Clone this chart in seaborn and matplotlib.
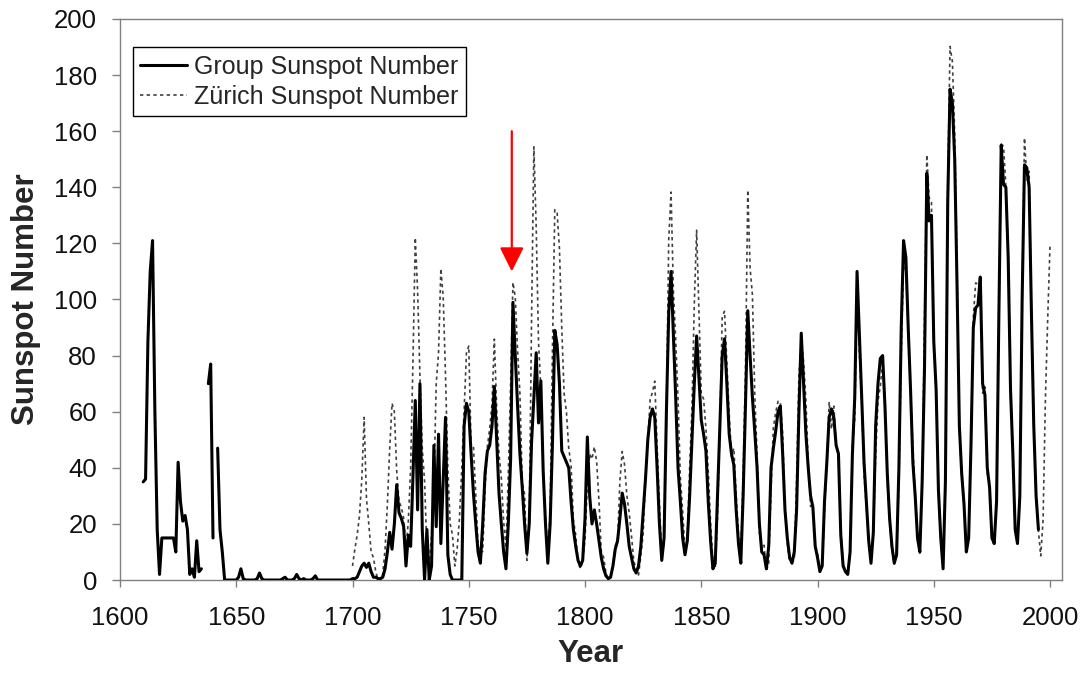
import numpy as np
import pandas as pd
import matplotlib
matplotlib.use("Agg")
import matplotlib.pyplot as plt
from matplotlib.lines import Line2D
import seaborn as sns

nan = np.nan

# Group sunspot number, yearly, 1610-1995 (nan = no data)
group_start = 1610
group_values = [
    35, 36, 85, 110, 121, 60, 18, 2, 15, 15,
    15, 15, 15, 15, 10, 42, 28, 21, 23, 18,
    2, 4, 1, 14, 3, 4, nan, nan, 70, 77,
    15, nan, 47, 18, 10, 0, 0, 0, 0, 0,
    0, 1, 4, 0.5, 0, 0, 0, 0, 0, 0.5,
    2.5, 0.5, 0, 0, 0, 0, 0, 0, 0, 0,
    0.5, 1, 0, 0, 0, 0.5, 2, 0.5, 0, 0.5,
    0, 0, 0, 0.5, 1.5, 0, 0, 0, 0, 0,
    0, 0, 0, 0, 0, 0, 0, 0, 0, 0,
    0.5, 0.5, 1, 3, 5, 6, 4.5, 6, 3, 1,
    1, 0.5, 0.5, 1, 4, 10, 17, 11, 20, 34,
    24, 22, 19, 5, 16, 12, 37, 64, 25, 70,
    18, 0, 18, 0, 5, 48, 19, 52, 13, 35,
    58, 9, 2, 0, 0, 0, 0, 0, 55, 63,
    60, 45, 31, 20, 10, 6, 20, 38, 46, 48,
    55, 69, 50, 31, 20, 10, 4, 20, 43, 99,
    80, 62, 45, 33, 20, 9.5, 20, 49, 65, 81,
    56, 71, 39, 20, 6, 20, 49, 89, 84, 70,
    46, 44, 42, 40, 28, 18, 12, 7, 5, 7,
    22, 51, 30, 20, 25, 20, 14, 8, 4, 1.5,
    0.5, 1, 5, 11, 14, 22, 31, 27, 20, 12,
    8, 4, 2.5, 5, 12, 24, 36, 50, 58, 61,
    58, 40, 20, 7, 15, 60, 95, 110, 88, 65,
    40, 28, 15, 9, 14, 30, 50, 70, 87, 72,
    57, 52, 46, 28, 14, 4, 6, 30, 55, 80,
    86, 70, 52, 45, 41, 25, 13, 6, 30, 62,
    96, 80, 65, 53, 40, 20, 10, 9, 4, 12,
    40, 47, 53, 60, 62, 45, 25, 15, 8, 6,
    10, 25, 60, 88, 70, 52, 40, 30, 26, 12,
    8, 3, 5, 28, 42, 58, 61, 58, 48, 45,
    16, 5, 3, 2, 10, 45, 65, 110, 88, 65,
    42, 28, 14, 6, 17, 55, 70, 79, 80, 62,
    38, 22, 12, 6, 9, 40, 90, 121, 115, 90,
    68, 42, 30, 15, 10, 35, 75, 145, 128, 130,
    85, 68, 32, 15, 4, 35, 135, 175, 170, 150,
    105, 55, 38, 27, 10, 15, 48, 90, 97, 98,
    108, 70, 66, 40, 33, 15, 13, 28, 95, 155,
    141, 140, 115, 68, 45, 18, 13, 30, 100, 148,
    147, 140, 95, 55, 30, 18,
]

# Zurich (Wolf) sunspot number, yearly, 1700-2000
zurich_start = 1700
zurich_values = [
    5, 11, 16, 23, 36, 58, 29, 20, 10, 8,
    3, 0, 0, 2, 11, 27, 47, 63, 60, 39,
    28, 26, 22, 11, 21, 40, 78, 122, 103, 73,
    47, 35, 11, 5, 16, 34, 70, 81, 111, 101,
    73, 40, 20, 16, 5, 11, 22, 40, 60, 80.9,
    83.4, 47.7, 47.8, 30.7, 12.2, 9.6, 10.2, 32.4, 47.6, 54.0,
    62.9, 85.9, 61.2, 45.1, 36.4, 20.9, 11.4, 37.8, 69.8, 106.1,
    100.8, 81.6, 66.5, 34.8, 30.6, 7.0, 19.8, 92.5, 154.4, 125.9,
    84.8, 68.1, 38.5, 22.8, 10.2, 24.1, 82.9, 132.0, 130.9, 118.1,
    89.9, 66.6, 60.0, 46.9, 41.0, 21.3, 16.0, 6.4, 4.1, 6.8,
    14.5, 34.0, 45.0, 43.1, 47.5, 42.2, 28.1, 10.1, 8.1, 2.5,
    0.0, 1.4, 5.0, 12.2, 13.9, 35.4, 45.8, 41.1, 30.1, 23.9,
    15.6, 6.6, 4.0, 1.8, 8.5, 16.6, 36.3, 49.6, 64.2, 67.0,
    70.9, 47.8, 27.5, 8.5, 13.2, 56.9, 121.5, 138.3, 103.2, 85.7,
    64.6, 36.7, 24.2, 10.7, 15.0, 40.1, 61.5, 98.5, 124.7, 96.3,
    66.6, 64.5, 54.1, 39.0, 20.6, 6.7, 4.3, 22.7, 54.8, 93.8,
    95.8, 77.2, 59.1, 44.0, 47.0, 30.5, 16.3, 7.3, 37.6, 74.0,
    139.0, 111.2, 101.6, 66.2, 44.7, 17.0, 11.3, 12.4, 3.4, 6.0,
    32.3, 54.3, 59.7, 63.7, 63.5, 52.2, 25.4, 13.1, 6.8, 6.3,
    7.1, 35.6, 73.0, 85.1, 78.0, 64.0, 41.8, 26.2, 26.7, 12.1,
    9.5, 2.7, 5.0, 24.4, 42.0, 63.5, 53.8, 62.0, 48.5, 43.9,
    18.6, 5.7, 3.6, 1.4, 9.6, 47.4, 57.1, 103.9, 80.6, 63.6,
    37.6, 26.1, 14.2, 5.8, 16.7, 44.3, 63.9, 69.0, 77.8, 64.9,
    35.7, 21.2, 11.1, 5.7, 8.7, 36.1, 79.7, 114.4, 109.6, 88.8,
    67.8, 47.5, 30.6, 16.3, 9.6, 33.2, 92.6, 151.6, 136.3, 134.7,
    83.9, 69.4, 31.5, 13.9, 4.4, 38.0, 141.7, 190.2, 184.8, 159.0,
    112.3, 53.9, 37.6, 27.9, 10.2, 15.1, 47.0, 93.8, 105.9, 105.5,
    104.5, 66.6, 68.9, 38.0, 34.5, 15.5, 12.6, 27.5, 92.5, 155.4,
    154.6, 140.4, 115.9, 66.6, 45.9, 17.9, 13.4, 29.4, 100.2, 157.6,
    142.6, 145.7, 94.3, 54.6, 29.9, 17.5, 8.6, 21.5, 64.3, 93.3,
    119.6,
]

x_ticks = list(range(1600, 2001, 50))
y_ticks = list(range(0, 201, 20))
arrow_year = 1768.5
arrow_from, arrow_to = 160, 110

# tables
group = pd.DataFrame({"Year": group_start + np.arange(len(group_values)),
                      "Value": group_values})
# split at gaps so the line breaks there
group["seg"] = group["Value"].isna().cumsum()
group = group.dropna()
zurich = pd.DataFrame({"Year": zurich_start + np.arange(len(zurich_values)),
                       "Value": zurich_values})

sns.set_style("white")
plt.rcParams["font.family"] = ["Liberation Sans", "DejaVu Sans"]

fig = plt.figure(figsize=(10.84, 6.75), dpi=100)
ax = fig.add_axes([0.1107, 0.1407, 0.8687, 0.8312])

zur_style = dict(color="#404040", lw=1.2, dashes=(2, 2))
sns.lineplot(data=zurich, x="Year", y="Value", ax=ax, **{"color": "#404040"},
             linewidth=1.2, linestyle=(0, (2, 2)), zorder=2)
sns.lineplot(data=group, x="Year", y="Value", units="seg", estimator=None,
             ax=ax, color="black", linewidth=2.2, zorder=3)

ax.annotate("", xy=(arrow_year, arrow_to), xytext=(arrow_year, arrow_from),
            arrowprops=dict(arrowstyle="-|>", color="red", lw=1.6,
                            mutation_scale=37, shrinkA=0, shrinkB=0))

ax.set_xlim(1600, 2005)
ax.set_ylim(0, 200)
ax.set_xticks(x_ticks)
ax.set_yticks(y_ticks)

for s in ax.spines.values():
    s.set_visible(True)
    s.set_color("#808080")
    s.set_linewidth(1.0)

ax.tick_params(axis="x", direction="out", length=5, width=1, color="#808080",
               pad=14, labelsize=18.5, labelcolor="#111111", bottom=True)
ax.tick_params(axis="y", direction="out", length=6, width=1, color="#808080",
               pad=10.5, labelsize=18.5, labelcolor="#111111", left=True)

ax.set_xlabel("Year", fontsize=22.5, fontweight="bold")
ax.set_ylabel("Sunspot Number", fontsize=22.5, fontweight="bold")
ax.xaxis.set_label_coords(0.5, -0.105)
ax.yaxis.set_label_coords(-0.084, 0.5)

handles = [Line2D([], [], color="black", lw=2.2),
           Line2D([], [], color="#404040", lw=1.2, linestyle=(0, (2, 2)))]
leg = ax.legend(handles, ["Group Sunspot Number", "Zürich Sunspot Number"],
                loc="upper left", bbox_to_anchor=(0.0138, 0.950),
                borderaxespad=0, fontsize=18, frameon=True, fancybox=False,
                framealpha=1, edgecolor="black", borderpad=0.3,
                labelspacing=0.25, handlelength=1.85, handletextpad=0.3)
leg.get_frame().set_linewidth(1.0)

fig.savefig("out.png", dpi=100)
